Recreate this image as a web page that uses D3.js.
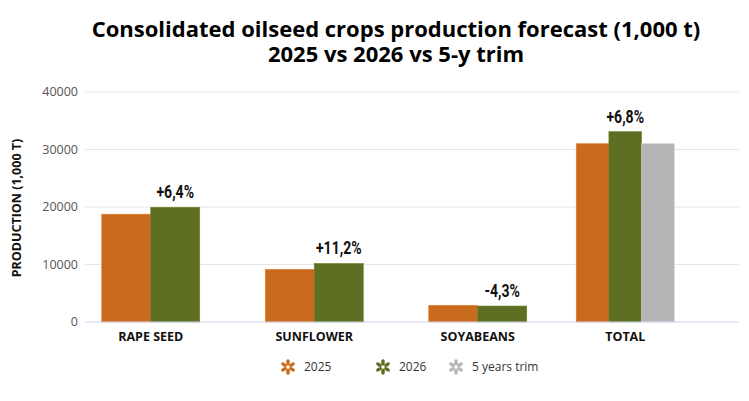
<!DOCTYPE html>
<html>
<head>
<meta charset="utf-8">
<script src="https://cdn.jsdelivr.net/npm/d3@7"></script>
<style>
  html, body { margin: 0; padding: 0; background: #fff; }
  svg { display: block; font-family: "Open Sans", "DejaVu Sans", sans-serif; }
  .grid line { stroke: #e6e6e6; stroke-width: 1; }
  .tick-label { font-size: 12.5px; fill: #555; }
  .cat-label { font-size: 12.5px; font-weight: 700; fill: #111; }
  .pct-label { font-family: "Roboto", "Open Sans", sans-serif; font-size: 18px; font-weight: 700; fill: #111; }
  .legend text { font-size: 12px; fill: #333; }
</style>
</head>
<body>
<svg id="chart" width="749" height="401"></svg>
<script>
// chart data
const categories = ["RAPE SEED", "SUNFLOWER", "SOYABEANS", "TOTAL"];
const values2025 = [18750, 9150, 2900, 31000];
const values2026 = [19950, 10175, 2775, 33100];
const valuesTrim = [null, null, null, 31000];
const changeLabels = ["+6,4%", "+11,2%", "-4,3%", "+6,8%"];
const yTicks = [0, 10000, 20000, 30000, 40000];

const seriesNames = ["2025", "2026", "5 years trim"];
const seriesColors = ["#C96B1E", "#5E6E22", "#B5B5B5"];
const seriesValues = [values2025, values2026, valuesTrim];

const svg = d3.select("#chart");
const width = 749;
const height = 401;
const margin = { top: 92, right: 10, bottom: 79, left: 85 };
const innerBottom = height - margin.bottom;

// Title (two lines)
svg.append("text")
  .attr("x", 396)
  .attr("y", 37)
  .attr("text-anchor", "middle")
  .attr("font-size", "22px")
  .attr("font-weight", 700)
  .attr("fill", "#000")
  .text("Consolidated oilseed crops production forecast (1,000 t)");

svg.append("text")
  .attr("x", 396)
  .attr("y", 62)
  .attr("text-anchor", "middle")
  .attr("font-size", "22px")
  .attr("font-weight", 700)
  .attr("fill", "#000")
  .text("2025 vs 2026 vs 5-y trim");

// Scales
const x = d3.scaleBand()
  .domain(categories)
  .range([margin.left, width - margin.right])
  .padding(0);

const y = d3.scaleLinear()
  .domain([0, 40000])
  .range([innerBottom, margin.top]);

// Gridlines
svg.append("g")
  .attr("class", "grid")
  .selectAll("line")
  .data(yTicks.filter((d) => d > 0))
  .enter()
  .append("line")
  .attr("x1", margin.left)
  .attr("x2", width - margin.right)
  .attr("y1", (d) => y(d))
  .attr("y2", (d) => y(d));

// Y tick labels
svg.append("g")
  .selectAll("text")
  .data(yTicks)
  .enter()
  .append("text")
  .attr("class", "tick-label")
  .attr("x", margin.left - 7)
  .attr("y", (d) => y(d))
  .attr("dy", "0.35em")
  .attr("text-anchor", "end")
  .text((d) => d);

// Y axis title
svg.append("text")
  .attr("transform", `translate(21, ${(margin.top + innerBottom) / 2 + 1}) rotate(-90)`)
  .attr("text-anchor", "middle")
  .attr("font-size", "12.5px")
  .attr("font-weight", 700)
  .attr("fill", "#111")
  .text("PRODUCTION (1,000 T)");

// Group layout: bars present in each category share a fixed group width
const groupWidth = 98;
const groups = categories.map((cat, i) => {
  const bars = seriesValues
    .map((vals, s) => ({ series: s, value: vals[i] }))
    .filter((b) => b.value != null);
  const center = x(cat) + x.bandwidth() / 2 - 16 * (bars.length - 1);
  return { cat, i, bars, center };
});

groups.forEach((grp) => {
  const inner = d3.scaleBand()
    .domain(grp.bars.map((b) => b.series))
    .range([grp.center - groupWidth / 2, grp.center + groupWidth / 2])
    .padding(0);

  svg.append("g")
    .selectAll("rect")
    .data(grp.bars)
    .enter()
    .append("rect")
    .attr("x", (b) => inner(b.series))
    .attr("y", (b) => y(b.value))
    .attr("width", inner.bandwidth())
    .attr("height", (b) => y(0) - y(b.value))
    .attr("fill", (b) => seriesColors[b.series])
    .attr("stroke", (b) => d3.color(seriesColors[b.series]).brighter(0.4))
    .attr("stroke-width", 0.6);

  // percentage change label above the 2026 bar (condensed look)
  const bar2026 = grp.bars.find((b) => b.series === 1);
  svg.append("text")
    .attr("class", "pct-label")
    .attr(
      "transform",
      `translate(${inner(1) + inner.bandwidth() / 2}, ${y(bar2026.value) - 9}) scale(0.78, 1)`
    )
    .attr("text-anchor", "middle")
    .text(changeLabels[grp.i]);

  // category label
  svg.append("text")
    .attr("class", "cat-label")
    .attr("x", grp.center)
    .attr("y", innerBottom + 19)
    .attr("text-anchor", "middle")
    .text(grp.cat);
});

// Baseline
svg.append("line")
  .attr("x1", margin.left)
  .attr("x2", width - 10)
  .attr("y1", y(0))
  .attr("y2", y(0))
  .attr("stroke", "#cdd6ee")
  .attr("stroke-width", 1.2);

// Legend
const legendX = [288, 383, 456];
const legend = svg.append("g").attr("class", "legend");
seriesNames.forEach((name, s) => {
  const item = legend.append("g")
    .attr("transform", `translate(${legendX[s]}, 367)`);
  [90, 30, -30, -90, 150, 210].forEach((angle) => {
    item.append("ellipse")
      .attr("cx", 0)
      .attr("cy", -4.6)
      .attr("rx", 1.8)
      .attr("ry", 3.2)
      .attr("transform", `rotate(${angle - 90})`)
      .attr("fill", seriesColors[s]);
  });
  item.append("text")
    .attr("x", 16)
    .attr("dy", "0.35em")
    .text(name);
});
</script>
</body>
</html>
